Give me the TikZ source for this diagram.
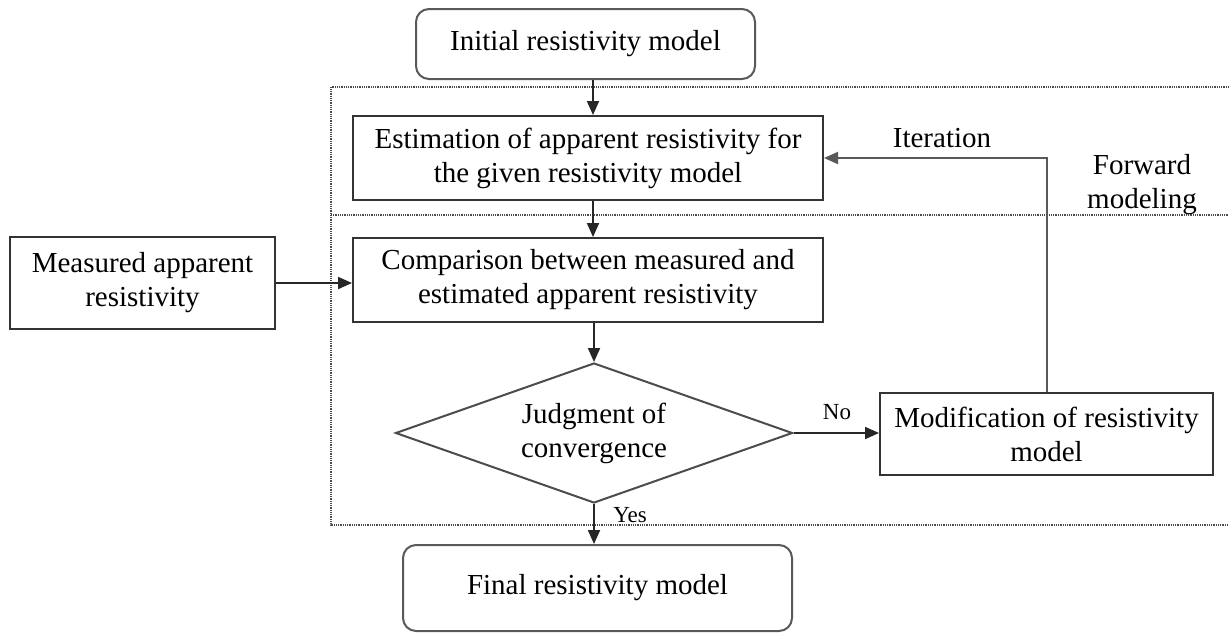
\documentclass[tikz,border=0pt]{standalone}
\usepackage{fontspec}
\setmainfont{Liberation Serif}
\usetikzlibrary{shapes.geometric,arrows.meta}
\begin{document}
\begin{tikzpicture}[x=1pt,y=-1pt,
  txt/.style={font=\fontsize{29}{34}\selectfont, text=black, align=center},
  box/.style={txt, draw=black!80, line width=2pt, inner sep=0pt},
  rbox/.style={box, draw=black!65, rounded corners=13pt},
  dec/.style={txt, draw=black!70, line width=2pt, shape=diamond, aspect=2.83, inner sep=0pt, minimum width=397pt, minimum height=140pt},
  conn/.style={draw=black!85, line width=2pt, -{Triangle[length=14pt,width=12pt]}},
  lbl/.style={font=\fontsize{23}{27}\selectfont, text=black},
  zone/.style={draw=black!70, line width=1.5pt, dash pattern=on 1pt off 0.8pt}]
\useasboundingbox (0,0) rectangle (1229,633);

% dotted zones
\coordinate (zTR) at (1229,87);
\coordinate (zTL) at (331,87);
\coordinate (zBL) at (331,525);
\coordinate (zBR) at (1229,525);
\coordinate (zML) at (331,215);
\coordinate (zMR) at (1229,215);
\draw[zone] (zTR) -- (zTL) -- (zBL) -- (zBR);
\draw[zone] (zML) -- (zMR);

% nodes
\node[rbox, minimum width=339pt, minimum height=70pt] (init) at (585.5,44) {Initial resistivity model};
\node[box, minimum width=470pt, minimum height=84pt] (est) at (588,158) {Estimation of apparent resistivity for\\the given resistivity model};
\node[box, minimum width=470pt, minimum height=84pt] (comp) at (588,280) {Comparison between measured and\\estimated apparent resistivity};
\node[box, minimum width=265pt, minimum height=92pt] (meas) at (142.5,283) {Measured apparent\\resistivity};
\node[dec] (diam) at (594,433) {Judgment of\\convergence};
\node[box, minimum width=333pt, minimum height=82pt] (mod) at (1046.5,434) {Modification of resistivity\\model};
\node[rbox, minimum width=389pt, minimum height=86pt] (final) at (597.5,588) {Final resistivity model};
\node[txt] (fwd) at (1142,185) {Forward\\modeling};

% connectors
\coordinate (colx) at (593,0);
\draw[conn] (init.south -| colx) -- (est.north -| colx);
\draw[conn] (est.south -| colx) -- (comp.north -| colx);
\draw[conn] (comp.south -| diam.north) -- (diam.north);
\draw[conn] (diam.south) -- (final.north -| diam.south);
\draw[conn] (meas.east) -- (meas.east -| comp.west);
\draw[conn] (diam.east) -- (diam.east -| mod.west);
\draw[conn, draw=black!65] (mod.north) -- (mod.north |- est.east) -- (est.east);

% labels
\node[txt] (iter) at (942,138) {Iteration};
\node[lbl] (no) at (837,412) {No};
\node[lbl] (yes) at (630,515) {Yes};
\end{tikzpicture}
\end{document}
